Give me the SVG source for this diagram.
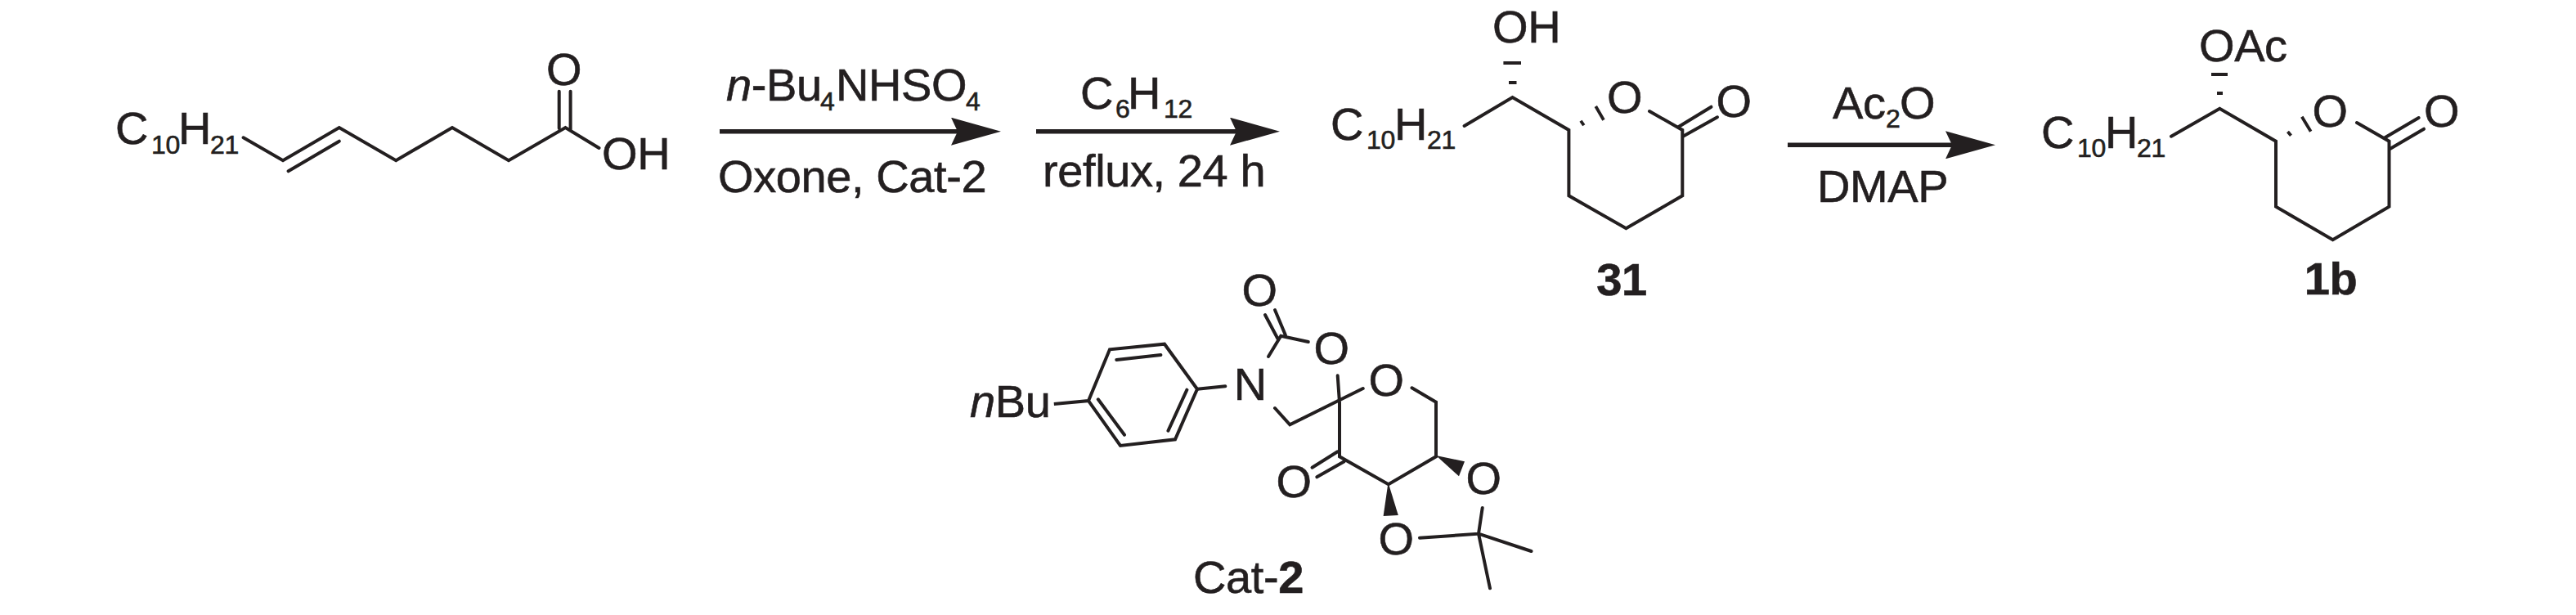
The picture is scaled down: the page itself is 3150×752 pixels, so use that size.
<svg xmlns="http://www.w3.org/2000/svg" width="3150" height="752" viewBox="0 0 3150 752">
<style>
text{font-family:"Liberation Sans",Arial,sans-serif;font-size:56px;letter-spacing:-.4px;fill:#231f20;stroke:#231f20;stroke-width:.6}
.sub{font-size:32px;letter-spacing:-.2px}
.i{font-style:italic}
.b{font-weight:bold}
.m{text-anchor:middle}
.bond{fill:none;stroke:#231f20;stroke-width:4;stroke-linecap:round;stroke-linejoin:miter}
.hash{fill:none;stroke:#231f20;stroke-width:3.8}
.wedge{fill:#231f20;stroke:none}
.arrow{fill:none;stroke:#231f20;stroke-width:5.4;marker-end:url(#head)}
</style>
<defs>
<marker id="head" markerUnits="userSpaceOnUse" markerWidth="61" markerHeight="34" viewBox="0 0 61 34" refX="8" refY="17" orient="auto">
<path d="M0 0L61 17L0 34L8 17Z" fill="#231f20"/>
</marker>
</defs>
<rect width="3150" height="752" fill="#fff"/>
<g id="connectors">
<path class="arrow" d="M880 160.7H1171"/>
<path class="arrow" d="M1267 160.7H1512"/>
<path class="arrow" d="M2186 177.3H2387"/>
</g>
<g id="reagent-labels">
<text x="888" y="123"><tspan class="i">n</tspan>-Bu<tspan class="sub" x="1003" y="135">4</tspan><tspan x="1022" y="123">NHSO</tspan><tspan class="sub" x="1181" y="135">4</tspan></text>
<text x="878" y="235">Oxone, Cat-2</text>
<text x="1321" y="132.7">C<tspan class="sub" x="1364" y="143.5">6</tspan><tspan x="1379" y="132.7">H</tspan><tspan class="sub" x="1423" y="143.5">12</tspan></text>
<text x="1275" y="228">reflux, 24 h</text>
<text x="2241" y="145">Ac<tspan class="sub" x="2306" y="156">2</tspan><tspan x="2323" y="145">O</tspan></text>
<text x="2222" y="247">DMAP</text>
</g>
<g id="acid">
<path class="bond" d="M297.6 168.3L346 196.3L414.8 156L484.2 196.3L553 156L622 196.3L691.4 156L732.5 181"/>
<path class="bond" d="M352.6 209.3L414.8 172.7M683.7 111.7V157M697.6 111.7V158"/>
<text x="141" y="176">C<tspan class="sub" x="185" y="187.7">10</tspan><tspan x="218" y="176">H</tspan><tspan class="sub" x="257" y="187.7">21</tspan></text>
<text class="m" x="689.5" y="104">O</text>
<text x="736" y="207">OH</text>
</g>
<g id="compound-31">
<path class="bond" d="M1790.6 154L1849.5 119L1918.4 159V239.3L1988.4 279.3L2057.3 239.3V159L2017 136"/>
<path class="bond" d="M2052.7 155L2092.5 130.7M2058 166.7L2100 143.3"/>
<path class="hash" d="M1845 101H1854.5M1838.4 77H1860M1933 147.7L1936.8 153.3M1951.3 130L1961 146.7"/>
<text x="1627" y="171">C<tspan class="sub" x="1671" y="182.3">10</tspan><tspan x="1705" y="171">H</tspan><tspan class="sub" x="1745" y="182.3">21</tspan></text>
<text class="m" x="1986.5" y="137.5">O</text>
<text class="m" x="2120" y="142.7">O</text>
<text x="1825" y="51.7">OH</text>
<text class="b m" x="1983" y="360.7">31</text>
</g>
<g id="compound-1b">
<path class="bond" d="M2655 166.7L2714.3 132.7L2783 172.7V252.7L2852.6 293.3L2921.5 252.7V172.7L2882 150"/>
<path class="bond" d="M2916.4 168.3L2957.7 144M2923 181.7L2964 157.7"/>
<path class="hash" d="M2711 114H2718M2704 91H2724M2797.5 161L2801.5 165.7M2814.8 142.7L2825.7 160.7"/>
<text x="2496" y="180.5">C<tspan class="sub" x="2540" y="191.7">10</tspan><tspan x="2574" y="180.5">H</tspan><tspan class="sub" x="2613" y="191.7">21</tspan></text>
<text class="m" x="2849" y="155">O</text>
<text class="m" x="2985.6" y="155">O</text>
<text x="2689" y="75">OAc</text>
<text class="b m" x="2850" y="360">1b</text>
</g>
<g id="cat-2">
<path class="bond" d="M1288.8 494L1331 490L1357 427.3L1424 420.7L1464 475.7L1437 537.3L1370 545L1331 490Z"/>
<path class="bond" d="M1365.3 440L1419.4 434M1451.4 476.7L1428.5 526.7M1342.8 488.3L1375 531.7M1464 475.7L1498.3 472.3"/>
<path class="bond" d="M1551 436L1566.3 410.7L1599.8 418M1547 385L1562.4 414M1559 379L1572 410"/>
<path class="bond" d="M1559 499L1577.3 519.3L1666.7 475M1635.7 459.3L1638 492.3V558.3L1697.8 592.3L1756 558.3V491.7L1726.5 474.3"/>
<path class="bond" d="M1635.6 552.3L1604.5 571.7M1643.8 564.3L1610.3 583.3"/>
<path class="wedge" d="M1756 557L1791 564.3L1784 582.3Z"/>
<path class="wedge" d="M1697.5 590L1691.6 631L1709.8 630Z"/>
<path class="bond" d="M1736 657.7L1808 652.7L1812.7 621M1808 652.7L1872.5 674M1808 652.7L1822 719.3"/>
<text x="1186" y="510"><tspan class="i">n</tspan>Bu</text>
<text class="m" x="1528.7" y="489">N</text>
<text class="m" x="1540" y="374">O</text>
<text class="m" x="1628" y="445">O</text>
<text class="m" x="1695" y="484">O</text>
<text class="m" x="1582" y="608">O</text>
<text class="m" x="1814" y="604">O</text>
<text class="m" x="1707" y="678">O</text>
<text x="1459" y="725">Cat-<tspan class="b">2</tspan></text>
</g>
</svg>
